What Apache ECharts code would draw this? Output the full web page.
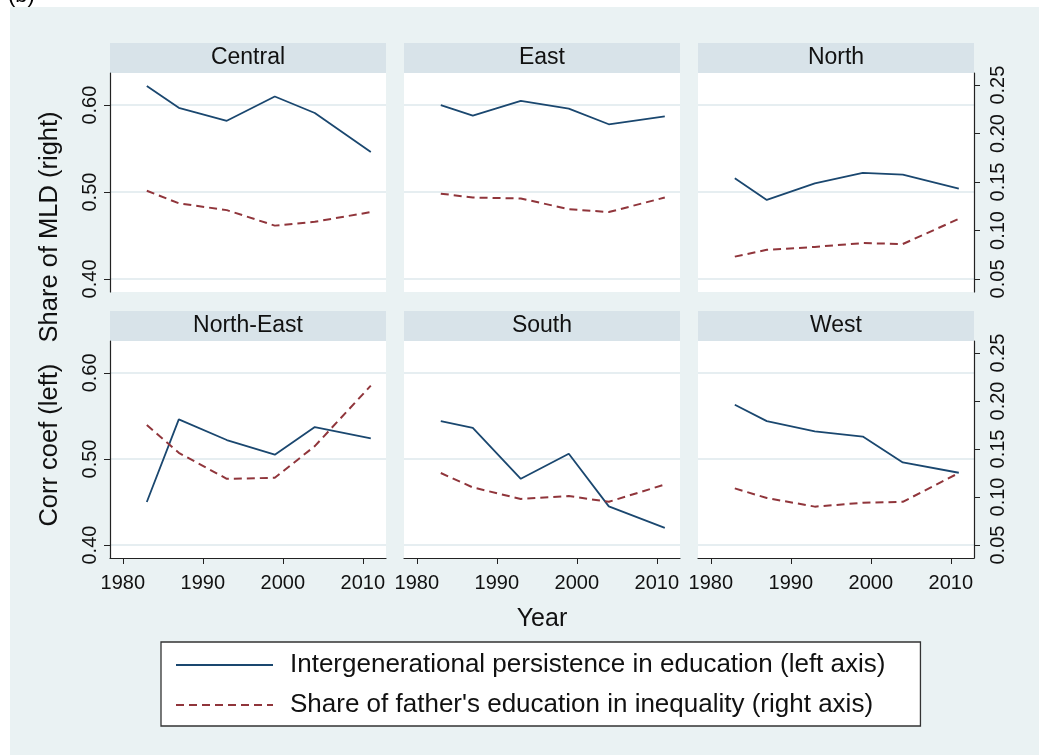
<!DOCTYPE html>
<html lang="en">
<head>
    <meta charset="UTF-8">
    <title>Persistence and share of MLD by region</title>
    <script type="text/javascript" src="https://cdn.jsdelivr.net/npm/echarts@6/dist/echarts.min.js"></script>
    <style>
        html, body { margin: 0; padding: 0; background: #fff; }
    </style>
</head>
<body>
    <div id="chart" style="width:1039px;height:755px;"></div>
<script>
// survey years (x axis)
var years = [1983, 1987, 1993, 1999, 2004, 2011];
var regions = ['Central', 'East', 'North', 'North-East', 'South', 'West'];

// correlation coefficient (left axis)
var centralCorr   = [0.622, 0.597, 0.582, 0.610, 0.591, 0.546];
var eastCorr      = [0.600, 0.588, 0.605, 0.596, 0.578, 0.587];
var northCorr     = [0.516, 0.491, 0.510, 0.522, 0.520, 0.504];
var northEastCorr = [0.450, 0.546, 0.522, 0.505, 0.537, 0.524];
var southCorr     = [0.544, 0.536, 0.477, 0.506, 0.445, 0.420];
var westCorr      = [0.563, 0.544, 0.532, 0.526, 0.496, 0.484];

// share of MLD explained by father's education (right axis)
var centralShare   = [0.141, 0.128, 0.121, 0.105, 0.109, 0.119];
var eastShare      = [0.138, 0.134, 0.133, 0.122, 0.119, 0.134];
var northShare     = [0.073, 0.080, 0.083, 0.087, 0.086, 0.112];
var northEastShare = [0.175, 0.146, 0.119, 0.120, 0.153, 0.216];
var southShare     = [0.125, 0.110, 0.098, 0.101, 0.095, 0.113];
var westShare      = [0.109, 0.099, 0.090, 0.094, 0.095, 0.125];

var leftTicks  = [0.40, 0.50, 0.60];
var rightTicks = [0.05, 0.10, 0.15, 0.20, 0.25];
var yearTicks  = [1980, 1990, 2000, 2010];

var corrName  = 'Intergenerational persistence in education (left axis)';
var shareName = "Share of father's education in inequality (right axis)";

var corrData  = [centralCorr, eastCorr, northCorr, northEastCorr, southCorr, westCorr];
var shareData = [centralShare, eastShare, northShare, northEastShare, southShare, westShare];

var FONT = '"Liberation Sans", Arial, sans-serif';
var colX = [110, 404, 698];
var rowY = [73, 341];
var rowH = [219, 217];
var panelW = 276;

function pairs(arr) {
    return years.map(function (y, k) { return [y, arr[k]]; });
}
function fmt2(v) { return v.toFixed(2); }
function fmtYear(v) { return String(v); }

var grids = [], xAxes = [], yAxes = [], series = [], graphics = [];

// white margin top / left like the cropped figure
graphics.push({ type: 'rect', shape: { x: 0, y: 0, width: 1039, height: 7 }, style: { fill: '#fff' } });
graphics.push({ type: 'rect', shape: { x: 0, y: 0, width: 10, height: 755 }, style: { fill: '#fff' } });
graphics.push({ type: 'text', x: 8, y: -15, style: { text: '(b)', font: '22px ' + FONT, fill: '#000' } });

for (var i = 0; i < 6; i++) {
    var col = i % 3, row = Math.floor(i / 3);
    var gx = colX[col], gy = rowY[row];
    var isBottom = row === 1, isLeftCol = col === 0, isRightCol = col === 2;

    grids.push({
        left: gx, top: gy, width: panelW, height: rowH[row],
        show: true, backgroundColor: '#fff', borderWidth: 0
    });

    // header strip with region name
    graphics.push({
        type: 'rect', shape: { x: gx, y: gy - 30, width: panelW, height: 30 },
        style: { fill: '#d8e3e9' }
    });
    graphics.push({
        type: 'text', x: gx + panelW / 2, y: gy - 15,
        style: { text: regions[i], font: '23px ' + FONT, fill: '#111', align: 'center', verticalAlign: 'middle' }
    });

    xAxes.push({
        type: 'value', gridIndex: i, min: 1978.4, max: 2012.9,
        axisLine: { show: isBottom, onZero: false, lineStyle: { color: '#222', width: 1.2 } },
        axisTick: { show: isBottom, length: 6, customValues: yearTicks, lineStyle: { color: '#222' } },
        axisLabel: {
            show: isBottom, customValues: yearTicks, fontSize: 20, fontFamily: FONT,
            color: '#111', margin: 15, formatter: fmtYear
        },
        splitLine: { show: false }
    });

    yAxes.push({
        type: 'value', gridIndex: i, position: 'left', min: 0.385, max: 0.637,
        axisLine: { show: isLeftCol, onZero: false, lineStyle: { color: '#222', width: 1.2 } },
        axisTick: { show: isLeftCol, length: 6, customValues: leftTicks, lineStyle: { color: '#222' } },
        axisLabel: {
            show: isLeftCol, customValues: leftTicks, rotate: 90, fontSize: 20, fontFamily: FONT,
            color: '#111', margin: 10, formatter: fmt2
        },
        splitLine: { show: true, lineStyle: { color: '#e6eef1', width: 2 } }
    });
    yAxes.push({
        type: 'value', gridIndex: i, position: 'right', min: 0.0365, max: 0.2625,
        axisLine: { show: isRightCol, onZero: false, lineStyle: { color: '#222', width: 1.2 } },
        axisTick: { show: isRightCol, length: 6, customValues: rightTicks, lineStyle: { color: '#222' } },
        axisLabel: {
            show: isRightCol, customValues: rightTicks, rotate: 90, fontSize: 20, fontFamily: FONT,
            color: '#111', margin: 14, formatter: fmt2
        },
        splitLine: { show: false }
    });

    series.push({
        name: corrName, type: 'line', xAxisIndex: i, yAxisIndex: 2 * i,
        symbol: 'none', data: pairs(corrData[i]),
        lineStyle: { color: '#1a476f', width: 1.8 }, itemStyle: { color: '#1a476f' }
    });
    series.push({
        name: shareName, type: 'line', xAxisIndex: i, yAxisIndex: 2 * i + 1,
        symbol: 'none', data: pairs(shareData[i]),
        lineStyle: { color: '#90353b', width: 2, type: [8, 5] }, itemStyle: { color: '#90353b' }
    });
}

// axis titles
graphics.push({
    type: 'text', x: 50, y: 319, rotation: Math.PI / 2,
    style: { text: 'Corr coef (left)   Share of MLD (right)', font: '25.5px ' + FONT, fill: '#111', align: 'center', verticalAlign: 'middle' }
});
graphics.push({
    type: 'text', x: 542, y: 619,
    style: { text: 'Year', font: '25px ' + FONT, fill: '#111', align: 'center', verticalAlign: 'middle' }
});

var myChart = echarts.init(document.getElementById('chart'));
var option = {
    backgroundColor: '#eaf2f3',
    animation: false,
    grid: grids,
    xAxis: xAxes,
    yAxis: yAxes,
    series: series,
    legend: {
        data: [corrName, shareName],
        orient: 'vertical', left: 161, top: 642,
        itemWidth: 97, itemHeight: 14, itemGap: 14,
        padding: [10, 35, 8, 14],
        itemStyle: { opacity: 0 },
        backgroundColor: '#fff', borderColor: '#333', borderWidth: 1.3,
        textStyle: { fontSize: 26, fontFamily: FONT, color: '#111', padding: [0, 0, 0, 12] }
    },
    graphic: graphics
};
myChart.setOption(option);
</script>
</body>
</html>
